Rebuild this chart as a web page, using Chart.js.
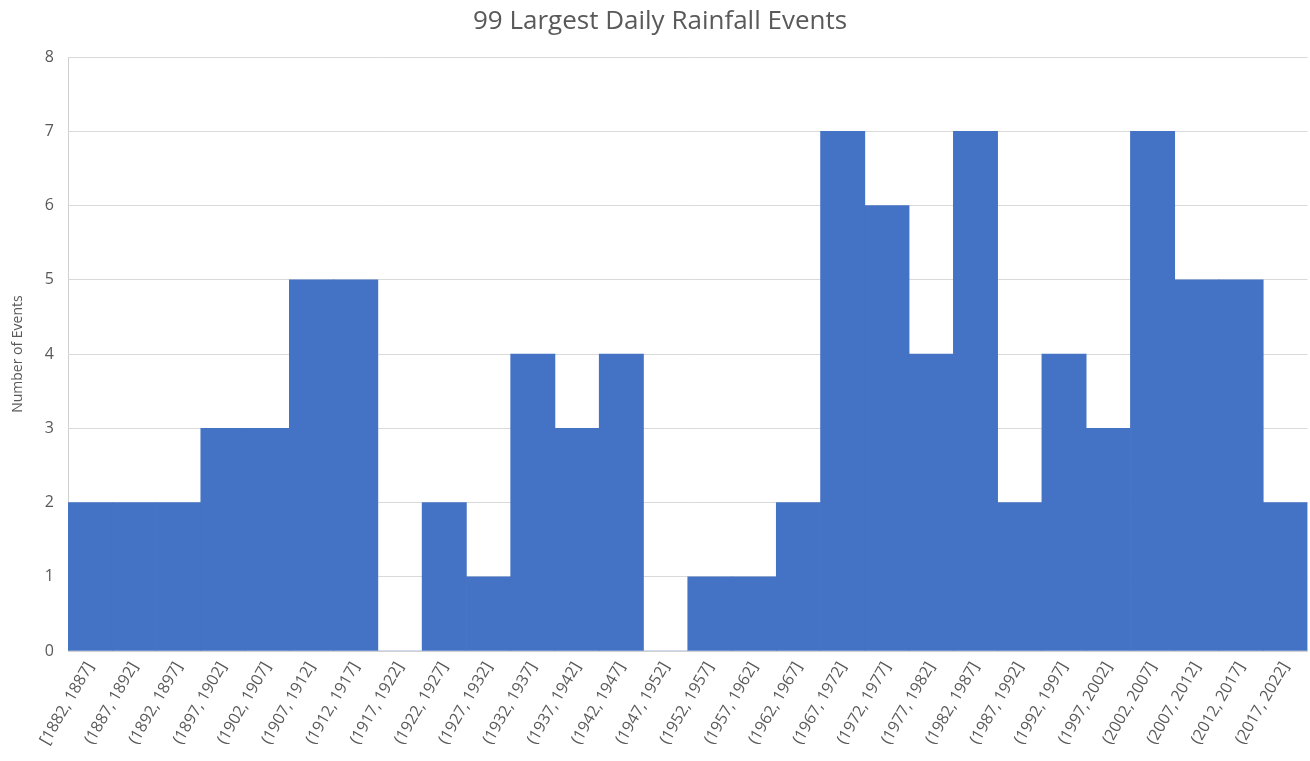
<!DOCTYPE html>
<html>
<head>
<meta charset="utf-8">
<script src="https://cdn.jsdelivr.net/npm/chart.js@4/dist/chart.umd.min.js"></script>
<style>
html,body{margin:0;padding:0;background:#fff;}
#wrap{width:1310px;height:761px;position:relative;}
</style>
</head>
<body>
<div id="wrap"><canvas id="c" width="1310" height="761"></canvas></div>
<script>
const categories = ["[1882, 1887]","(1887, 1892]","(1892, 1897]","(1897, 1902]","(1902, 1907]","(1907, 1912]","(1912, 1917]","(1917, 1922]","(1922, 1927]","(1927, 1932]","(1932, 1937]","(1937, 1942]","(1942, 1947]","(1947, 1952]","(1952, 1957]","(1957, 1962]","(1962, 1967]","(1967, 1972]","(1972, 1977]","(1977, 1982]","(1982, 1987]","(1987, 1992]","(1992, 1997]","(1997, 2002]","(2002, 2007]","(2007, 2012]","(2012, 2017]","(2017, 2022]"];
const counts = [2,2,2,3,3,5,5,0,2,1,4,3,4,0,1,1,2,7,6,4,7,2,4,3,7,5,5,2];
const yTicks = [0,1,2,3,4,5,6,7,8];
const titleText = "99 Largest Daily Rainfall Events";
const yTitle = "Number of Events";

const FONT = "'Open Sans', 'Liberation Sans', sans-serif";
new Chart(document.getElementById('c'), {
  type: 'bar',
  data: {
    labels: categories,
    datasets: [{
      data: counts,
      backgroundColor: '#4472C4',
      borderWidth: 0,
      categoryPercentage: 1.0,
      barPercentage: 1.0
    }]
  },
  options: {
    responsive: false,
    animation: false,
    layout: { padding: { top: 0, right: 0, left: 10, bottom: 0 } },
    plugins: {
      legend: { display: false },
      tooltip: { enabled: false },
      title: {
        display: true,
        text: titleText,
        color: '#595959',
        font: { family: FONT, size: 26, weight: 'normal' },
        padding: { top: 6, bottom: 20 }
      }
    },
    scales: {
      x: {
        grid: { display: false, drawTicks: false },
        border: { display: true, color: '#d0d0d0', width: 1 },
        ticks: {
          color: '#595959',
          font: { family: FONT, size: 16 },
          minRotation: 60,
          maxRotation: 60,
          autoSkip: false,
          padding: 8
        },
        afterFit: (s) => { s.height = 110; }
      },
      y: {
        min: 0, max: 8,
        afterBuildTicks: (s) => { s.ticks = yTicks.map(v => ({ value: v })); },
        grid: { color: '#d9d9d9', drawTicks: false },
        border: { display: true, color: '#d0d0d0' },
        ticks: {
          color: '#595959',
          font: { family: FONT, size: 16 },
          padding: 14
        },
        title: {
          display: true,
          text: yTitle,
          color: '#595959',
          font: { family: FONT, size: 14 },
          padding: { top: 0, bottom: 4 }
        },
        afterFit: (s) => { s.width = 58; }
      }
    }
  }
});
</script>
</body>
</html>
